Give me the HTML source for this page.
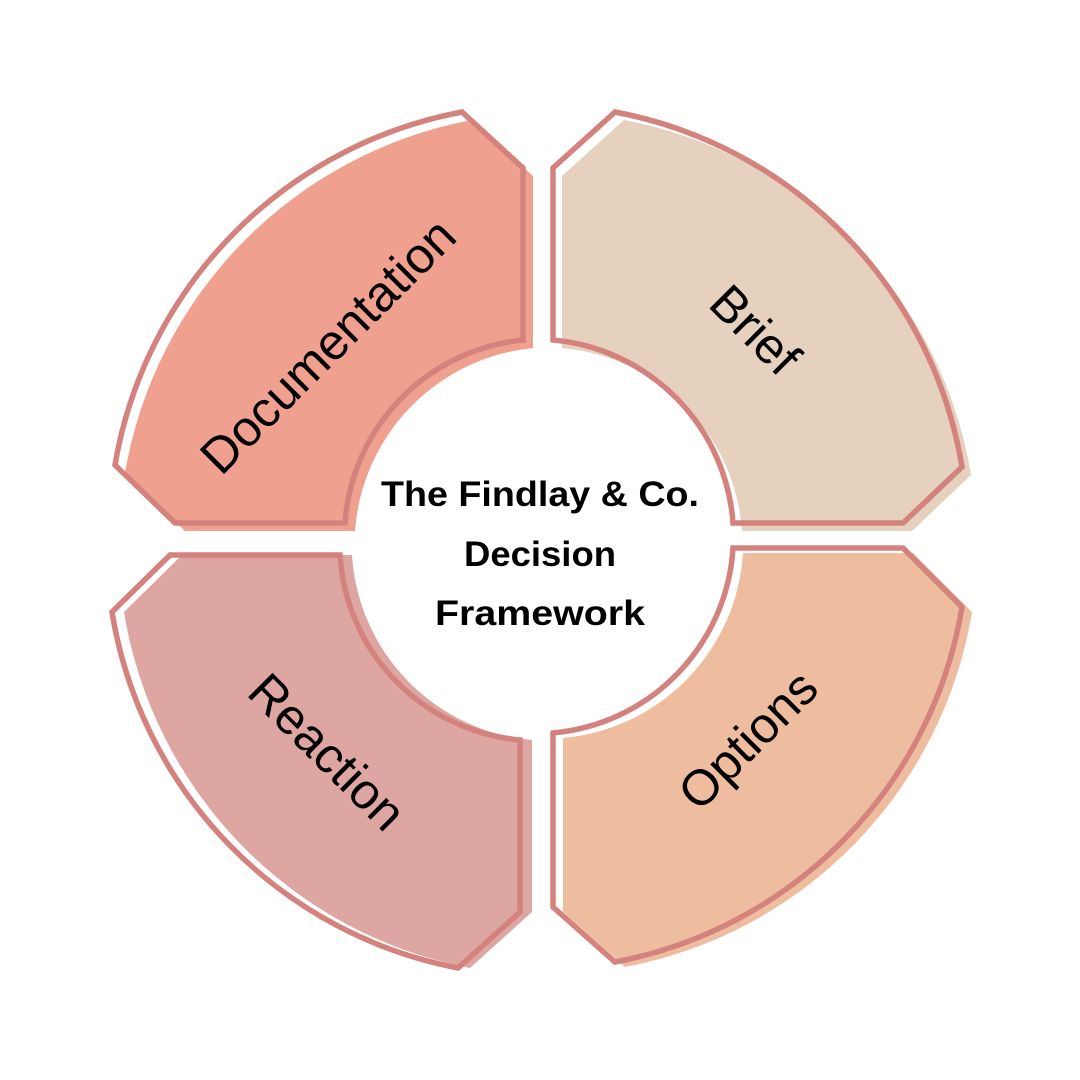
<!DOCTYPE html>
<html><head><meta charset="utf-8"><style>
html,body{margin:0;padding:0;background:#fff}
svg{display:block}
text{font-family:"Liberation Sans",sans-serif;fill:#000}
</style></head><body>
<svg width="1080" height="1080" viewBox="0 0 1080 1080" xmlns="http://www.w3.org/2000/svg">
<defs>
<path id="tl" d="M462,112 L523,168 L523,340 A198,198 0 0 0 345,523 L175,523 L115,465 A433,433 0 0 1 462,112 Z"/>
<path id="tr" d="M615,112 L553,168 L553,340 A198,198 0 0 1 733,523 L903,523 L962,467 A433,433 0 0 0 615,112 Z"/>
<path id="bl" d="M170,555 L340,555 A198,198 0 0 0 520,740 L520,912 L458,968 A433,433 0 0 1 112,612 Z"/>
<path id="br" d="M733,548 L903,548 L962,607 A433,433 0 0 1 615,962 L553,907 L553,733 A198,198 0 0 0 733,548 Z"/>
</defs>
<use href="#tl" transform="translate(10,8)" fill="#EFA08F"/>
<use href="#tr" transform="translate(9,8)" fill="#E5D1BE"/>
<use href="#bl" transform="translate(12,0)" fill="#DDA6A1"/>
<use href="#br" transform="translate(10,5)" fill="#EEBDA0"/>
<g fill="none" stroke="#D4827E" stroke-width="5.5" stroke-linejoin="miter">
<use href="#tl"/><use href="#tr"/><use href="#bl"/><use href="#br"/>
</g>
<g font-size="35" text-anchor="middle" font-weight="bold" textLength="">
<text x="540" y="506" textLength="318" lengthAdjust="spacingAndGlyphs">The Findlay &amp; Co.</text>
<text x="540" y="566" textLength="152" lengthAdjust="spacingAndGlyphs">Decision</text>
<text x="540" y="625" textLength="210" lengthAdjust="spacingAndGlyphs">Framework</text>
</g>
<g font-size="50" text-anchor="middle">
<text transform="translate(328,346) rotate(-45)" y="17">Documentation</text>
<text transform="translate(755,330) rotate(45)" y="17">Brief</text>
<text transform="translate(327,752) rotate(45)" y="17">Reaction</text>
<text transform="translate(748,740) rotate(-45)" y="17">Options</text>
</g>
</svg>
</body></html>
